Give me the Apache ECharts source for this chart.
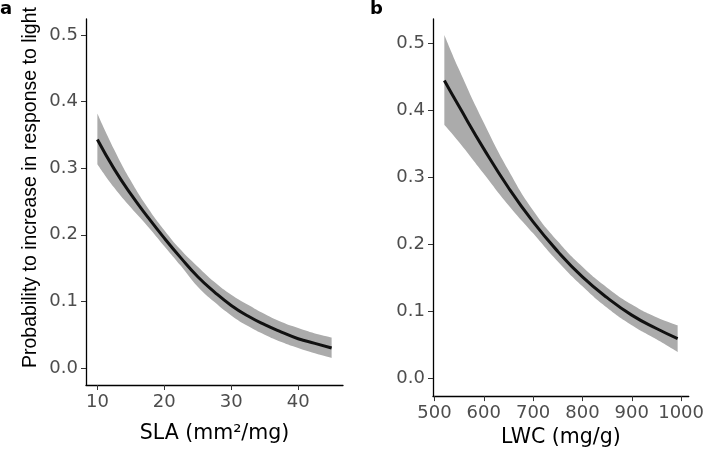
<!DOCTYPE html>
<html lang="en" style="height: 100%">
<head>
  <meta charset="utf-8">
</head>
<body style="height: 100%; margin: 0">
  <div id="container" style="width: 707px; height: 453px"></div>

  <script type="text/javascript" src="https://cdn.jsdelivr.net/npm/echarts@6/dist/echarts.min.js"></script>

  <script type="text/javascript">
    // panel a: SLA (mm2/mg)
    var slaX = [10, 12.5, 15, 17.5, 20, 22.5, 25, 27.5, 30, 32.5, 35, 37.5, 40, 42.5, 45];
    var slaFit = [0.343, 0.299, 0.261, 0.227, 0.195, 0.165, 0.137, 0.114, 0.094, 0.078, 0.065, 0.054, 0.044, 0.037, 0.030];
    var slaLower = [0.306, 0.271, 0.241, 0.213, 0.183, 0.153, 0.122, 0.099, 0.079, 0.063, 0.050, 0.039, 0.030, 0.022, 0.015];
    var slaUpper = [0.382, 0.328, 0.281, 0.241, 0.207, 0.177, 0.152, 0.129, 0.110, 0.095, 0.081, 0.069, 0.060, 0.052, 0.046];

    // panel b: LWC (mg/g)
    var lwcX = [520, 550, 600, 650, 700, 750, 800, 850, 900, 950, 993];
    var lwcFit = [0.444, 0.405, 0.342, 0.284, 0.233, 0.189, 0.151, 0.120, 0.094, 0.074, 0.059];
    var lwcLower = [0.378, 0.352, 0.305, 0.258, 0.216, 0.174, 0.137, 0.105, 0.079, 0.058, 0.039];
    var lwcUpper = [0.512, 0.460, 0.381, 0.310, 0.250, 0.204, 0.166, 0.135, 0.110, 0.091, 0.079];

    var probTicks = [0, 0.1, 0.2, 0.3, 0.4, 0.5];
    var slaTicks = [10, 20, 30, 40];
    var lwcTicks = [500, 600, 700, 800, 900, 1000];

    // rows are [y, x] so that stacking works on the y value
    function rows(xs, ys) {
      return xs.map(function (x, i) { return [ys[i], x]; });
    }
    function diff(a, b) {
      return a.map(function (v, i) { return +(v - b[i]).toFixed(4); });
    }

    var dom = document.getElementById('container');
    var myChart = echarts.init(dom, null, { renderer: 'canvas' });

    var labelStyle = { fontFamily: 'DejaVu Sans', fontSize: 18, color: '#4d4d4d' };
    var axisLine = { show: true, onZero: false, lineStyle: { color: '#000', width: 1.3 } };
    var tickStyle = { color: '#333', width: 1 };
    var nameStyle = { fontFamily: 'DejaVu Sans', fontSize: 20.5, color: '#000' };

    function xAxisFor(idx, min, max, ticks, name, gap) {
      return {
        gridIndex: idx, type: 'value', min: min, max: max, z: 5,
        axisLine: axisLine,
        axisTick: { show: true, customValues: ticks, length: 5, lineStyle: tickStyle },
        axisLabel: Object.assign({
          customValues: ticks, margin: 8,
          formatter: function (v) { return String(v); }
        }, labelStyle),
        splitLine: { show: false },
        name: name, nameLocation: 'middle', nameGap: gap, nameTextStyle: nameStyle
      };
    }
    function yAxisFor(idx, min, max) {
      return {
        gridIndex: idx, type: 'value', min: min, max: max, z: 5,
        axisLine: axisLine,
        axisTick: { show: true, customValues: probTicks, length: 5, lineStyle: tickStyle },
        axisLabel: Object.assign({
          customValues: probTicks, margin: 8,
          formatter: function (v) { return v.toFixed(1); }
        }, labelStyle),
        splitLine: { show: false }
      };
    }

    function bandSeries(idx, xs, lower, upper, fit) {
      var enc = { x: 1, y: 0 };
      return [
        {
          type: 'line', xAxisIndex: idx, yAxisIndex: idx, stack: 'band' + idx,
          data: rows(xs, lower), encode: enc, symbol: 'none', smooth: true, silent: true,
          lineStyle: { width: 0, opacity: 0 }
        },
        {
          type: 'line', xAxisIndex: idx, yAxisIndex: idx, stack: 'band' + idx,
          data: rows(xs, diff(upper, lower)), encode: enc, symbol: 'none', smooth: true, silent: true,
          lineStyle: { width: 0, opacity: 0 },
          areaStyle: { color: '#ababab', opacity: 1 }
        },
        {
          type: 'line', xAxisIndex: idx, yAxisIndex: idx,
          data: rows(xs, fit), encode: enc, symbol: 'none', smooth: true,
          lineStyle: { color: '#111', width: 3 }, z: 3
        }
      ];
    }

    var yA = yAxisFor(0, -0.0255, 0.524);
    yA.name = 'Probability to increase in response to light';
    yA.nameLocation = 'middle';
    yA.nameGap = 45;
    yA.nameTextStyle = { fontFamily: 'Liberation Sans', fontSize: 19.5, color: '#000', padding: [0, 0, 0, 29] };

    var option = {
      animation: false,
      title: [
        { text: 'a', left: 0, top: 0, padding: 0,
          textStyle: { fontFamily: 'DejaVu Sans', fontWeight: 'bold', fontSize: 18, color: '#000' } },
        { text: 'b', left: 370, top: 0, padding: 0,
          textStyle: { fontFamily: 'DejaVu Sans', fontWeight: 'bold', fontSize: 18, color: '#000' } }
      ],
      grid: [
        { left: 86, top: 19, width: 257, height: 366 },
        { left: 433, top: 19, width: 257, height: 378 }
      ],
      xAxis: [
        xAxisFor(0, 8.3, 46.7, slaTicks, 'SLA (mm²/mg)', 38),
        xAxisFor(1, 497, 1015.5, lwcTicks, 'LWC (mg/g)', 22)
      ],
      yAxis: [yA, yAxisFor(1, -0.0268, 0.5357)],
      series: bandSeries(0, slaX, slaLower, slaUpper, slaFit)
        .concat(bandSeries(1, lwcX, lwcLower, lwcUpper, lwcFit))
    };

    myChart.setOption(option);
    window.addEventListener('resize', myChart.resize);
  </script>
</body>
</html>
